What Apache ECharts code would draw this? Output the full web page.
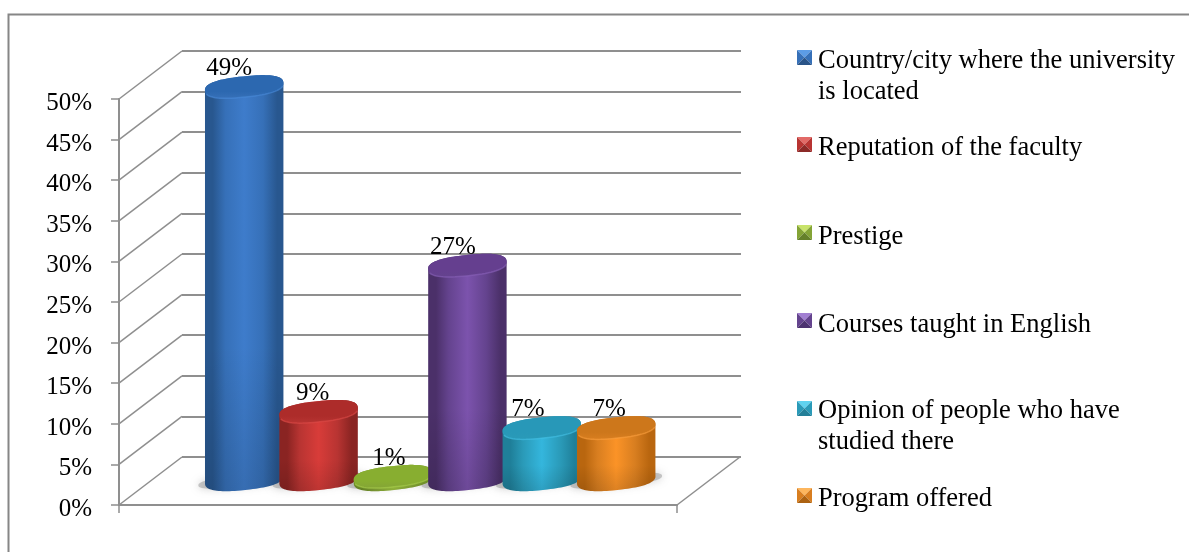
<!DOCTYPE html>
<html>
<head>
<meta charset="utf-8">
<script src="https://cdn.jsdelivr.net/npm/echarts@6/dist/echarts.min.js"></script>
<style>html,body{margin:0;padding:0;background:#fff}#c{width:1189px;height:552px}</style>
</head>
<body>
<div id="c"></div>
<script>
// ---- data ----
const categories = [
  'Country/city where the university\nis located',
  'Reputation of the faculty',
  'Prestige',
  'Courses taught in English',
  'Opinion of people who have\nstudied there',
  'Program offered'
];
const values = [49, 9, 1, 27, 7, 7];
const yTicks = [0, 5, 10, 15, 20, 25, 30, 35, 40, 45, 50];
const axisCategory = [''];

// ---- styling / layout (not data) ----
const FONT = '"Liberation Serif","Times New Roman",serif';
const FS = 25;
const LEGEND_FS = 26.5;
const GRAY = '#8f8f8f';
const palette = [
  {edge:'#28578f', mid:'#3e7ccb', top:'#2c68b0', rim:'#4a8bd8', lt:'#5c9ce6', dk:'#2a5488', sd:'#3670b8'},
  {edge:'#8a2422', mid:'#d83c39', top:'#ad2c2a', rim:'#dd4b48', lt:'#e26a67', dk:'#8c2a28', sd:'#b83432'},
  {edge:'#6f9028', mid:'#9cc23e', top:'#88ae30', rim:'#a9cf4c', lt:'#c8e36a', dk:'#64802a', sd:'#84a436'},
  {edge:'#4b3069', mid:'#7c53ad', top:'#653f8f', rim:'#8a62bb', lt:'#a27fd2', dk:'#4c3270', sd:'#64438e'},
  {edge:'#1f7f99', mid:'#34b6dd', top:'#2898b8', rim:'#45c2e6', lt:'#5fd2ef', dk:'#237f98', sd:'#2a9ab8'},
  {edge:'#b9660f', mid:'#fb9327', top:'#cd771b', rim:'#fca040', lt:'#fdb65e', dk:'#ac6212', sd:'#d87e20'}
];
const labelDx = [-15, -6, -4, -14.5, -14, -7];
const legendTops = [45.5, 133, 221.5, 309.5, 396, 483.5];
const markerTops = [50, 137, 225, 313, 401, 488];
const DEPTH_X = 63, DEPTH_Y = -48;
const TILT = -6 * Math.PI / 180;
const RY = 10.4;
const BASE_LIFT = 5;
const ROUND = 0.8;

function spow(a) { return Math.sign(a) * Math.pow(Math.abs(a), ROUND); }
function ellipsePts(cx, cy, rx, ry, t0, t1, n) {
  const pts = [], c = Math.cos(TILT), s = Math.sin(TILT);
  for (let i = 0; i <= n; i++) {
    const t = t0 + (t1 - t0) * i / n;
    const ex = rx * spow(Math.cos(t)), ey = ry * spow(Math.sin(t));
    pts.push([cx + ex * c - ey * s, cy + ex * s + ey * c]);
  }
  return pts;
}

function cylinder(idx) {
  return function (params, api) {
    const v = api.value(1);
    const p = api.coord([api.value(0), v]);
    const p0 = api.coord([api.value(0), 0]);
    const rx = api.size([1, 0])[0] * 0.53;
    const col = palette[idx];
    const cx = p[0], topY = p[1], baseY = p0[1] - BASE_LIFT;
    const front = ellipsePts(cx, baseY, rx, RY, 0, Math.PI, 48);
    const back = ellipsePts(cx, topY, rx, RY, Math.PI, 2 * Math.PI, 48);
    const rim = ellipsePts(cx, topY, rx, RY, 0.25, Math.PI - 0.25, 30);
    const bodyGrad = {type:'linear', x:0, y:0, x2:1, y2:0, colorStops:[
      {offset:0, color:col.edge}, {offset:0.1, color:col.edge},
      {offset:0.26, color:col.sd}, {offset:0.5, color:col.mid}, {offset:0.74, color:col.sd},
      {offset:0.92, color:col.edge}, {offset:1, color:col.edge}]};
    const topGrad = {type:'linear', x:0, y:0, x2:0, y2:1, colorStops:[
      {offset:0, color:col.top}, {offset:0.7, color:col.top}, {offset:1, color:col.sd}]};
    const darken = {type:'linear', x:0, y:0, x2:0, y2:1, colorStops:[
      {offset:0, color:'rgba(0,0,0,0)'}, {offset:0.65, color:'rgba(0,0,0,0)'}, {offset:1, color:'rgba(0,0,0,0.12)'}]};
    const outline = back.concat(front);
    return {
      type:'group',
      children:[
        {type:'polygon', shape:{points:outline}, style:{fill:bodyGrad}},
        {type:'polygon', shape:{points:outline}, style:{fill:darken}},
        {type:'polygon', shape:{points:ellipsePts(cx, topY, rx, RY, 0, 2 * Math.PI, 96)}, style:{fill:topGrad}},
        {type:'polyline', shape:{points:rim}, style:{stroke:col.rim, lineWidth:1.5, fill:null, opacity:0.6}},
        {type:'text', x:cx + labelDx[idx], y:topY - 18,
         style:{text:v + '%', font:FS + 'px ' + FONT, fill:'#000', align:'center', verticalAlign:'middle'}}
      ]
    };
  };
}

function shadowItem(params, api) {
  const p0 = api.coord([api.value(0), 0]);
  const rx = api.size([1, 0])[0] * 0.62;
  const cy = p0[1] - BASE_LIFT + 1;
  return {
    type:'polygon',
    shape:{points:ellipsePts(p0[0], cy, rx, 6, 0, 2 * Math.PI, 60)},
    style:{fill:'rgba(140,140,140,0.45)', shadowBlur:9, shadowColor:'rgba(120,120,120,0.8)'}
  };
}

function slantItem(params, api) {
  const v = api.value(0);
  const y = api.coord([0, v])[1];
  const cs = params.coordSys;
  const line = (x) => ({type:'line', shape:{x1:x, y1:y, x2:x + DEPTH_X, y2:y + DEPTH_Y},
    style:{stroke:GRAY, lineWidth:1.5}});
  const kids = [line(cs.x)];
  if (v === 0) kids.push(line(cs.x + cs.width));
  return {type:'group', children:kids};
}

const cylinderSeries = categories.map((name, i) => ({
  type:'custom', name, xAxisIndex:2, yAxisIndex:2, z:3, clip:false,
  itemStyle:{color:palette[i].mid},
  encode:{x:0, y:1},
  data:[[i, values[i]]],
  renderItem:cylinder(i)
}));

const legends = categories.map((name, i) => ({
  data:[name], left:798, top:legendTops[i], orient:'vertical', padding:0,
  itemWidth:15, itemHeight:14, selectedMode:false, icon:'rect',
  itemStyle:{opacity:0},
  textStyle:{fontFamily:FONT, fontSize:LEGEND_FS, color:'#000', lineHeight:31}
}));

const markers = palette.map((c, i) => ({
  type:'group', x:797, y:markerTops[i], silent:true, children:[
    {type:'polygon', shape:{points:[[0,0],[15,0],[7.5,7.5]]}, style:{fill:c.lt}},
    {type:'polygon', shape:{points:[[0,0],[7.5,7.5],[0,15]]}, style:{fill:c.sd}},
    {type:'polygon', shape:{points:[[15,0],[7.5,7.5],[15,15]]}, style:{fill:c.sd}},
    {type:'polygon', shape:{points:[[0,15],[15,15],[7.5,7.5]]}, style:{fill:c.dk}}
  ]
}));

const hiddenAxis = {show:false};
const option = {
  animation:false,
  backgroundColor:'#fff',
  legend:legends,
  graphic:{elements:[
    {type:'polyline', silent:true, shape:{points:[[8.5,560],[8.5,14.5],[1195,14.5]]},
     style:{stroke:'#868686', lineWidth:2, fill:null}},
    ...markers
  ]},
  grid:[
    {left:119, top:99, width:558, height:406},                // front plane
    {left:119 + DEPTH_X, top:99 + DEPTH_Y, width:559, height:406}, // back wall
    {left:207, top:78.6, width:446.4, height:406},           // plane through the cylinders
    {left:119, top:103.5, width:558, height:406}             // carries the tick labels
  ],
  xAxis:[
    {gridIndex:0, type:'category', data:axisCategory, boundaryGap:true,
     axisLine:{lineStyle:{color:GRAY, width:2}},
     axisTick:{show:true, length:8, alignWithLabel:false, lineStyle:{color:GRAY, width:1.5}},
     axisLabel:{show:false}},
    {gridIndex:1, type:'category', data:axisCategory, ...hiddenAxis},
    {gridIndex:2, type:'category', data:categories, ...hiddenAxis},
    {gridIndex:3, type:'category', data:axisCategory, ...hiddenAxis}
  ],
  yAxis:[
    {gridIndex:0, type:'value', min:0, max:50, interval:5,
     axisLine:{show:true, lineStyle:{color:GRAY, width:2}},
     axisTick:{show:true, length:8, lineStyle:{color:GRAY, width:1.5}},
     splitLine:{show:false}, axisLabel:{show:false}},
    {gridIndex:1, type:'value', min:0, max:50, interval:5,
     axisLine:{show:false}, axisTick:{show:false}, axisLabel:{show:false},
     splitLine:{show:true, lineStyle:{color:GRAY, width:2}}},
    {gridIndex:2, type:'value', min:0, max:50, interval:5, ...hiddenAxis, splitLine:{show:false}},
    {gridIndex:3, type:'value', min:0, max:50, interval:5,
     axisLine:{show:false}, axisTick:{show:false}, splitLine:{show:false},
     axisLabel:{formatter:'{value}%', margin:27, fontFamily:FONT, fontSize:FS, color:'#000'}}
  ],
  series:[
    {type:'custom', xAxisIndex:0, yAxisIndex:0, z:1, silent:true, clip:false, legendHoverLink:false,
     data:yTicks.map(v => [v]), encode:{y:0}, renderItem:slantItem},
    {type:'custom', xAxisIndex:2, yAxisIndex:2, z:2, silent:true, clip:false,
     data:values.map((v, i) => [i, v]), encode:{x:0, y:1}, renderItem:shadowItem},
    ...cylinderSeries
  ]
};
const chart = echarts.init(document.getElementById('c'), null, {renderer:'canvas'});
chart.setOption(option);
</script>
</body>
</html>
